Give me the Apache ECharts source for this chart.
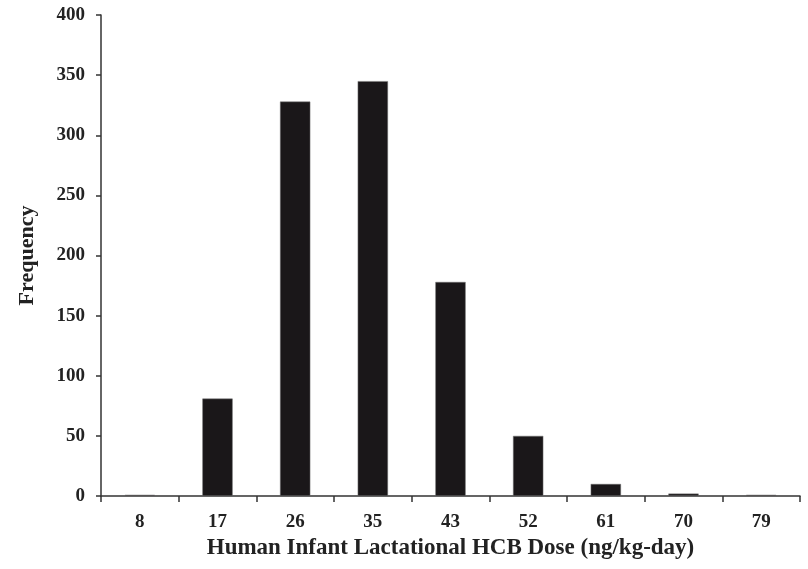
<!DOCTYPE html>
<html>
<head>
<meta charset="utf-8">
<script src="https://cdn.jsdelivr.net/npm/echarts@6/dist/echarts.min.js"></script>
<style>
html,body{margin:0;padding:0;background:#fff;}
#chart{width:808px;height:569px;}
</style>
</head>
<body>
<div id="chart"></div>
<script>
const categories = ['8','17','26','35','43','52','61','70','79'];
const frequency = [1, 81, 328, 345, 178, 50, 10, 2, 1];
const yTicks = {min: 0, max: 400, interval: 50};
const xTitle = 'Human Infant Lactational HCB Dose (ng/kg-day)';
const yTitle = 'Frequency';

const font = 'Liberation Serif';
const chart = echarts.init(document.getElementById('chart'));
chart.setOption({
  animation: false,
  backgroundColor: '#fff',
  grid: {left: 101, right: 8, top: 15, bottom: 73, containLabel: false},
  xAxis: {
    type: 'category',
    data: categories,
    boundaryGap: true,
    name: xTitle,
    nameLocation: 'middle',
    nameGap: 41,
    nameTextStyle: {fontFamily: font, fontWeight: 'bold', fontSize: 23, color: '#222'},
    axisLine: {lineStyle: {color: '#333', width: 1.5}},
    axisTick: {show: true, alignWithLabel: false, length: 6, lineStyle: {color: '#333', width: 1.5}},
    axisLabel: {fontFamily: font, fontWeight: 'bold', fontSize: 19, color: '#222', margin: 17},
    splitLine: {show: false}
  },
  yAxis: {
    type: 'value',
    min: yTicks.min, max: yTicks.max, interval: yTicks.interval,
    name: yTitle,
    nameLocation: 'middle',
    nameGap: 63,
    nameRotate: 90,
    nameTextStyle: {fontFamily: font, fontWeight: 'bold', fontSize: 22, color: '#222'},
    axisLine: {show: true, lineStyle: {color: '#333', width: 1.5}},
    axisTick: {show: true, length: 5, lineStyle: {color: '#333', width: 1.5}},
    axisLabel: {fontFamily: font, fontWeight: 'bold', fontSize: 19, color: '#222', margin: 16},
    splitLine: {show: false}
  },
  series: [{
    type: 'bar',
    data: frequency,
    barWidth: '39%',
    itemStyle: {color: '#1a1719', borderColor: '#777', borderWidth: 0.5}
  }]
});
</script>
</body>
</html>
